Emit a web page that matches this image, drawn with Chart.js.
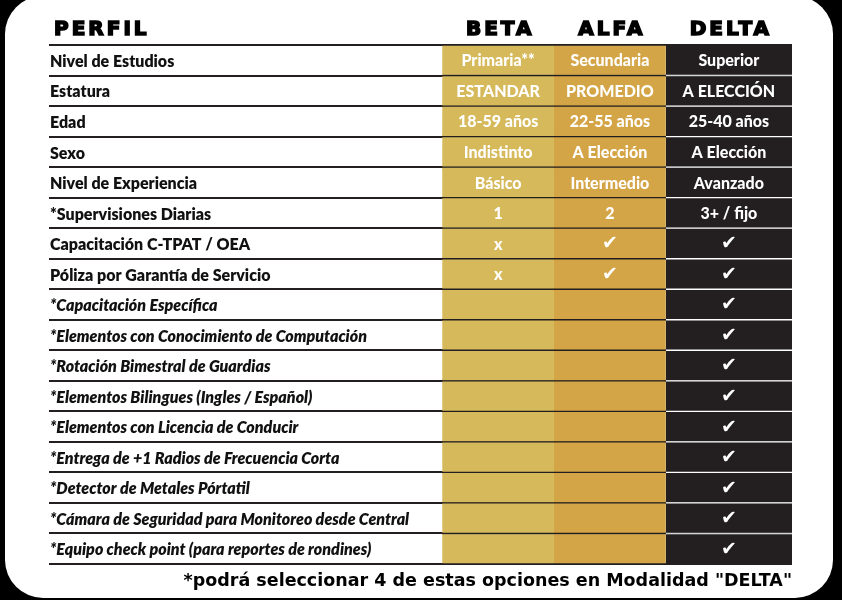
<!DOCTYPE html>
<html>
<head>
<meta charset="utf-8">
<script src="https://cdn.jsdelivr.net/npm/chart.js@4.4.1/dist/chart.umd.min.js"></script>
<style>
body{margin:0;background:#000;}
</style>
</head>
<body>
<canvas id="tabla" width="842" height="600"></canvas>
<script>
//Table content
const perfil = [
  'Nivel de Estudios',
  'Estatura',
  'Edad',
  'Sexo',
  'Nivel de Experiencia',
  '*Supervisiones Diarias',
  'Capacitación C-TPAT / OEA',
  'Póliza por Garantía de Servicio',
  '*Capacitación Específica',
  '*Elementos con Conocimiento de Computación',
  '*Rotación Bimestral de Guardias',
  '*Elementos Bilingues (Ingles / Español)',
  '*Elementos con Licencia de Conducir',
  '*Entrega de +1 Radios de Frecuencia Corta',
  '*Detector de Metales Pórtatil',
  '*Cámara de Seguridad para Monitoreo desde Central',
  '*Equipo check point (para reportes de rondines)'
];
const beta = ['Primaria**','ESTANDAR','18-59 años','Indistinto','Básico','1','x','x','','','','','','','','',''];
const alfa = ['Secundaria','PROMEDIO','22-55 años','A Elección','Intermedio','2','✔','✔','','','','','','','','',''];
const delta = ['Superior','A ELECCIÓN','25-40 años','A Elección','Avanzado','3+ / fijo','✔','✔','✔','✔','✔','✔','✔','✔','✔','✔','✔'];
const planes = ['BETA','ALFA','DELTA'];
const footnote = '*podrá seleccionar 4 de estas opciones en Modalidad "DELTA"';

//layout of the plan columns on the x scale (label column sits left of 0)
const spans = [[0,1],[1,2],[2,3.13]];
const colColors = ['#d6b95a','#d4a546','#231f20'];
const cellText = [beta, alfa, delta];
const dark = '#231f20';

//white rounded card behind everything
const card = {
  id:'card',
  beforeDraw(chart){
    const ctx = chart.ctx;
    ctx.save();
    ctx.fillStyle = '#000';
    ctx.fillRect(0,0,chart.width,chart.height);
    ctx.fillStyle = '#fff';
    ctx.beginPath();
    ctx.roundRect(5,-4,828,602,38);
    ctx.fill();
    ctx.restore();
  }
};

//texts inside the cells + header row
const cellLabels = {
  id:'cellLabels',
  afterDatasetsDraw(chart){
    const ctx = chart.ctx;
    ctx.save();
    ctx.fillStyle = '#fff';
    ctx.textAlign = 'center';
    ctx.textBaseline = 'middle';
    chart.data.datasets.forEach((ds,i)=>{
      chart.getDatasetMeta(i).data.forEach((bar,j)=>{
        const t = cellText[i][j];
        if (!t) return;
        const p = bar.getCenterPoint();
        ctx.font = t=='✔' ? 'bold 19px "DejaVu Sans"' : '900 16px Lato';
        ctx.fillText(t, p.x, p.y+1);
      });
    });
    //header
    const area = chart.chartArea;
    const xs = chart.scales.x;
    const y = area.top - 15;
    ctx.fillStyle = '#000';
    ctx.strokeStyle = '#000';
    ctx.lineWidth = 1.6;
    ctx.font = 'bold 20px "DejaVu Sans"';
    ctx.letterSpacing = '3px';
    ctx.textAlign = 'left';
    ctx.fillText('PERFIL', area.left+5, y);
    ctx.strokeText('PERFIL', area.left+5, y);
    ctx.textAlign = 'center';
    planes.forEach((p,i)=>{
      const x = xs.getPixelForValue((spans[i][0]+spans[i][1])/2) + 2;
      ctx.fillText(p, x, y);
      ctx.strokeText(p, x, y);
    });
    ctx.restore();
  }
};

const config = {
  type:'bar',
  data:{
    labels: perfil,
    datasets: planes.map((p,i)=>({
      label:p,
      data: perfil.map(()=>spans[i]),
      backgroundColor: colColors[i],
      borderColor: i<2 ? dark : '#ffffff',
      borderWidth: i<2 ? {top:1,bottom:1,left:0,right:0}
        : (c)=>({top: c.dataIndex===0?0:1, bottom: c.dataIndex===perfil.length-1?0:1, left:0, right:0}),
      borderSkipped:false,
      barPercentage:1,
      categoryPercentage:1,
      grouped:false
    }))
  },
  options:{
    responsive:false,
    animation:false,
    indexAxis:'y',
    layout:{padding:{left:47,right:50,top:45,bottom:8}},
    scales:{
      x:{type:'linear', min:-3.52, max:3.13, display:false},
      y:{
        grid:{color:dark, lineWidth:2, drawTicks:false},
        border:{display:false},
        ticks:{
          mirror:true,
          padding:1,
          labelOffset:1.5,
          color:'#111',
          font:(c)=>({family:'Lato', size:16, weight:'800', style: c.index>=8 ? 'italic' : 'normal'})
        }
      }
    },
    plugins:{
      legend:{display:false},
      tooltip:{enabled:false},
      title:{
        display:true,
        text:footnote,
        position:'bottom',
        align:'end',
        color:'#000',
        font:{family:'"DejaVu Sans"', size:17.5, weight:'bold'},
        padding:{top:7,bottom:0}
      }
    }
  },
  plugins:[card, cellLabels]
};

const myChart = new Chart(document.getElementById('tabla'), config);
</script>
</body>
</html>
